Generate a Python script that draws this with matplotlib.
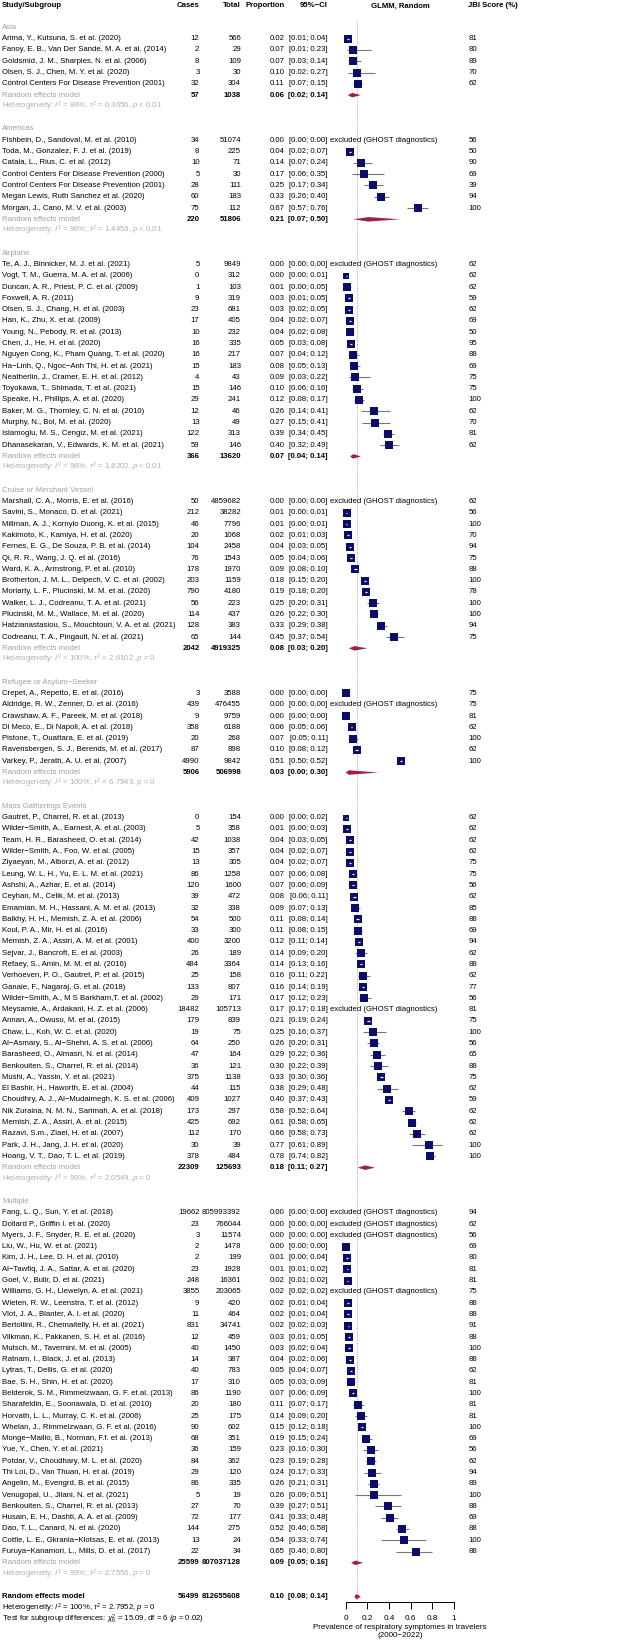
import numpy as np
import matplotlib
matplotlib.use('Agg')
import matplotlib.pyplot as plt
from matplotlib import transforms

plt.rcParams['font.family'] = ['Liberation Sans', 'DejaVu Sans']
plt.rcParams['mathtext.fontset'] = 'custom'
plt.rcParams['mathtext.rm'] = 'Liberation Sans'
plt.rcParams['mathtext.it'] = 'Liberation Sans:italic'
plt.rcParams['mathtext.bf'] = 'Liberation Sans:bold'

# ---------------- data ----------------
group_labels = ["Asia", "Americas", "Airplane", "Cruise or Merchant Vessel",
                "Refugee or Asylum\u2212Seeker", "Mass Gatherings Events", "Multiple"]
group_sizes = [5, 7, 17, 13, 7, 31, 31]

studies = [
    # Asia
    "Arima, Y., Kutsuna, S. et al. (2020)",
    "Fanoy, E. B., Van Der Sande, M. A. et al. (2014)",
    "Goldsmid, J. M., Sharples, N. et al. (2006)",
    "Olsen, S. J., Chen, M. Y. et al. (2020)",
    "Control Centers For Disease Prevention (2001)",
    # Americas
    "Fishbein, D., Sandoval, M. et al. (2010)",
    "Toda, M., Gonzalez, F. J. et al. (2019)",
    "Catala, L., Rius, C. et al. (2012)",
    "Control Centers For Disease Prevention (2000)",
    "Control Centers For Disease Prevention (2001)",
    "Megan Lewis, Ruth Sanchez et al. (2020)",
    "Morgan, J., Cano, M. V. et al. (2003)",
    # Airplane
    "Te, A. J., Binnicker, M. J. et al. (2021)",
    "Vogt, T. M., Guerra, M. A. et al. (2006)",
    "Duncan, A. R., Priest, P. C. et al. (2009)",
    "Foxwell, A. R. (2011)",
    "Olsen, S. J., Chang, H. et al. (2003)",
    "Han, K., Zhu, X. et al. (2009)",
    "Young, N., Pebody, R. et al. (2013)",
    "Chen, J., He, H. et al. (2020)",
    "Nguyen Cong, K., Pham Quang, T. et al. (2020)",
    "Ha\u2212Linh, Q., Ngoc\u2212Anh Thi, H. et al. (2021)",
    "Neatherlin, J., Cramer, E. H. et al. (2012)",
    "Toyokawa, T., Shimada, T. et al. (2021)",
    "Speake, H., Phillips, A. et al. (2020)",
    "Baker, M. G., Thornley, C. N. et al. (2010)",
    "Murphy, N., Bol, M. et al. (2020)",
    "Islamoglu, M. S., Cengiz, M. et al. (2021)",
    "Dhanasekaran, V., Edwards, K. M. et al. (2021)",
    # Cruise
    "Marshall, C. A., Morris, E. et al. (2016)",
    "Savini, S., Monaco, D. et al. (2021)",
    "Millman, A. J., Kornylo Duong, K. et al. (2015)",
    "Kakimoto, K., Kamiya, H. et al. (2020)",
    "Fernes, E. G., De Souza, P. B. et al. (2014)",
    "Qi, R. R., Wang, J. Q. et al. (2016)",
    "Ward, K. A., Armstrong, P. et al. (2010)",
    "Brotherton, J. M. L., Delpech, V. C. et al. (2002)",
    "Moriarty, L. F., Plucinski, M. M. et al. (2020)",
    "Walker, L. J., Codreanu, T. A. et al. (2021)",
    "Plucinski, M. M., Wallace, M. et al. (2020)",
    "Hatzianastasiou, S., Mouchtouri, V. A. et al. (2021)",
    "Codreanu, T. A., Pingault, N. et al. (2021)",
    # Refugee
    "Crepet, A., Repetto, E. et al. (2016)",
    "Aldridge, R. W., Zenner, D. et al. (2016)",
    "Crawshaw, A. F., Pareek, M. et al. (2018)",
    "Di Meco, E., Di Napoli, A. et al. (2018)",
    "Pistone, T., Ouattara, E. et al. (2019)",
    "Ravensbergen, S. J., Berends, M. et al. (2017)",
    "Varkey, P., Jerath, A. U. et al. (2007)",
    # Mass gatherings
    "Gautret, P., Charrel, R. et al. (2013)",
    "Wilder\u2212Smith, A., Earnest, A. et al. (2003)",
    "Team, H. R., Barasheed, O. et al. (2014)",
    "Wilder\u2212Smith, A., Foo, W. et al. (2005)",
    "Ziyaeyan, M., Alborzi, A. et al. (2012)",
    "Leung, W. L. H., Yu, E. L. M. et al. (2021)",
    "Ashshi, A., Azhar, E. et al. (2014)",
    "Ceyhan, M., Celik, M. et al. (2013)",
    "Emamian, M. H., Hassani, A. M. et al. (2013)",
    "Balkhy, H. H., Memish, Z. A. et al. (2006)",
    "Koul, P. A., Mir, H. et al. (2016)",
    "Memish, Z. A., Assiri, A. M. et al. (2001)",
    "Sejvar, J., Bancroft, E. et al. (2003)",
    "Refaey, S., Amin, M. M. et al. (2016)",
    "Verhoeven, P. O., Gautret, P. et al. (2015)",
    "Ganaie, F., Nagaraj, G. et al. (2018)",
    "Wilder\u2212Smith, A., M S Barkham,T. et al. (2002)",
    "Meysamie, A., Ardakani, H. Z. et al. (2006)",
    "Annan, A., Owusu, M. et al. (2015)",
    "Chaw, L., Koh, W. C. et al. (2020)",
    "Al\u2212Asmary, S., Al\u2212Shehri, A. S. et al. (2006)",
    "Barasheed, O., Almasri, N. et al. (2014)",
    "Benkouiten, S., Charrel, R. et al. (2014)",
    "Mushi, A., Yassin, Y. et al. (2021)",
    "El Bashir, H., Haworth, E. et al. (2004)",
    "Choudhry, A. J., Al\u2212Mudaimegh, K. S. et al. (2006)",
    "Nik Zuraina, N. M. N., Sarimah, A. et al. (2018)",
    "Memish, Z. A., Assiri, A. et al. (2015)",
    "Razavi, S.m., Ziaei, H. et al. (2007)",
    "Park, J. H., Jang, J. H. et al. (2020)",
    "Hoang, V. T., Dao, T. L. et al. (2019)",
    # Multiple
    "Fang, L. Q., Sun, Y. et al. (2018)",
    "Dollard P., Griffin I. et al. (2020)",
    "Myers, J. F., Snyder, R. E. et al. (2020)",
    "Liu, W., Hu, W. et al. (2021)",
    "Kim, J. H., Lee, D. H. et al. (2010)",
    "Al\u2212Tawfiq, J. A., Sattar, A. et al. (2020)",
    "Goel, V., Bulir, D. et al. (2021)",
    "Williams, G. H., Llewelyn, A. et al. (2021)",
    "Wieten, R. W., Leenstra, T. et al. (2012)",
    "Vlot, J. A., Blanter, A. I. et al. (2020)",
    "Bertollini, R., Chemaitelly, H. et al. (2021)",
    "Vilkman, K., Pakkanen, S. H. et al. (2016)",
    "Mutsch, M., Tavernini, M. et al. (2005)",
    "Ratnam, I., Black, J. et al. (2013)",
    "Lytras, T., Dellis, G. et al. (2020)",
    "Bae, S. H., Shin, H. et al. (2020)",
    "Belderok, S. M., Rimmelzwaan, G. F. et al. (2013)",
    "Sharafeldin, E., Soonawala, D. et al. (2010)",
    "Horvath, L. L., Murray, C. K. et al. (2006)",
    "Whelan, J., Rimmelzwaan, G. F. et al. (2016)",
    "Monge\u2212Maillo, B., Norman, F.f. et al. (2013)",
    "Yue, Y., Chen, Y. et al. (2021)",
    "Potdar, V., Choudhary, M. L. et al. (2020)",
    "Thi Loi, D., Van Thuan, H. et al. (2019)",
    "Angelin, M., Evengrd, B. et al. (2015)",
    "Venugopal, U., Jilani, N. et al. (2021)",
    "Benkouiten, S., Charrel, R. et al. (2013)",
    "Husain, E. H., Dashti, A. A. et al. (2009)",
    "Dao, T. L., Canard, N. et al. (2020)",
    "Cottle, L. E., Gkrania\u2212Klotsas, E. et al. (2013)",
    "Furuya\u2212Kanamori, L., Mills, D. et al. (2017)",
]

cases = [12, 2, 8, 3, 32,
         34, 8, 10, 5, 28, 60, 75,
         5, 0, 1, 9, 23, 17, 10, 16, 16, 15, 4, 15, 29, 12, 13, 122, 59,
         50, 212, 46, 20, 104, 76, 178, 203, 790, 56, 114, 128, 65,
         3, 439, 9, 358, 20, 87, 4990,
         0, 5, 42, 15, 13, 86, 120, 39, 32, 54, 33, 400, 26, 484, 25, 133, 29, 18482,
         179, 19, 64, 47, 36, 375, 44, 409, 173, 425, 112, 30, 378,
         19662, 23, 3, 2, 2, 23, 248, 3855, 9, 11, 831, 12, 40, 14, 40, 17, 86,
         20, 25, 90, 68, 36, 84, 29, 86, 5, 27, 72, 144, 13, 22]

totals = [566, 29, 109, 30, 304,
          51074, 225, 71, 30, 111, 183, 112,
          9849, 312, 103, 319, 681, 405, 232, 335, 217, 183, 43, 146, 241, 46, 49, 313, 146,
          4859682, 38282, 7796, 1068, 2458, 1543, 1970, 1159, 4180, 223, 437, 383, 144,
          3588, 476455, 9759, 6188, 268, 898, 9842,
          154, 358, 1038, 357, 305, 1258, 1600, 472, 338, 500, 300, 3200, 189, 3364, 158, 807,
          171, 105713, 839, 75, 250, 164, 121, 1138, 115, 1027, 297, 692, 170, 39, 484,
          805993392, 766044, 11574, 1478, 199, 1928, 16361, 203065, 420, 464, 34741, 459, 1450,
          387, 783, 310, 1190, 180, 175, 602, 351, 159, 362, 120, 335, 19, 70, 177, 275, 24, 34]

props = [0.02, 0.07, 0.07, 0.10, 0.11,
         0.00, 0.04, 0.14, 0.17, 0.25, 0.33, 0.67,
         0.00, 0.00, 0.01, 0.03, 0.03, 0.04, 0.04, 0.05, 0.07, 0.08, 0.09, 0.10, 0.12, 0.26, 0.27, 0.39, 0.40,
         0.00, 0.01, 0.01, 0.02, 0.04, 0.05, 0.09, 0.18, 0.19, 0.25, 0.26, 0.33, 0.45,
         0.00, 0.00, 0.00, 0.06, 0.07, 0.10, 0.51,
         0.00, 0.01, 0.04, 0.04, 0.04, 0.07, 0.07, 0.08, 0.09, 0.11, 0.11, 0.12, 0.14, 0.14, 0.16, 0.16,
         0.17, 0.17, 0.21, 0.25, 0.26, 0.29, 0.30, 0.33, 0.38, 0.40, 0.58, 0.61, 0.66, 0.77, 0.78,
         0.00, 0.00, 0.00, 0.00, 0.01, 0.01, 0.02, 0.02, 0.02, 0.02, 0.02, 0.03, 0.03,
         0.04, 0.05, 0.05, 0.07, 0.11, 0.14, 0.15, 0.19, 0.23, 0.23, 0.24, 0.26, 0.26, 0.39, 0.41, 0.52, 0.54, 0.65]

ci_lo = [0.01, 0.01, 0.03, 0.02, 0.07,
         0.00, 0.02, 0.07, 0.06, 0.17, 0.26, 0.57,
         0.00, 0.00, 0.00, 0.01, 0.02, 0.02, 0.02, 0.03, 0.04, 0.05, 0.03, 0.06, 0.08, 0.14, 0.15, 0.34, 0.32,
         0.00, 0.00, 0.00, 0.01, 0.03, 0.04, 0.08, 0.15, 0.18, 0.20, 0.22, 0.29, 0.37,
         0.00, 0.00, 0.00, 0.05, 0.05, 0.08, 0.50,
         0.00, 0.00, 0.03, 0.02, 0.02, 0.06, 0.06, 0.06, 0.07, 0.08, 0.08, 0.11, 0.09, 0.13, 0.11, 0.14,
         0.12, 0.17, 0.19, 0.16, 0.20, 0.22, 0.22, 0.30, 0.29, 0.37, 0.52, 0.58, 0.58, 0.61, 0.74,
         0.00, 0.00, 0.00, 0.00, 0.00, 0.01, 0.01, 0.02, 0.01, 0.01, 0.02, 0.01, 0.02,
         0.02, 0.04, 0.03, 0.06, 0.07, 0.09, 0.12, 0.15, 0.16, 0.19, 0.17, 0.21, 0.09, 0.27, 0.33, 0.46, 0.33, 0.46]

ci_hi = [0.04, 0.23, 0.14, 0.27, 0.15,
         0.00, 0.07, 0.24, 0.35, 0.34, 0.40, 0.76,
         0.00, 0.01, 0.05, 0.05, 0.05, 0.07, 0.08, 0.08, 0.12, 0.13, 0.22, 0.16, 0.17, 0.41, 0.41, 0.45, 0.49,
         0.00, 0.01, 0.01, 0.03, 0.05, 0.06, 0.10, 0.20, 0.20, 0.31, 0.30, 0.38, 0.54,
         0.00, 0.00, 0.00, 0.06, 0.11, 0.12, 0.52,
         0.02, 0.03, 0.05, 0.07, 0.07, 0.08, 0.09, 0.11, 0.13, 0.14, 0.15, 0.14, 0.20, 0.16, 0.22, 0.19,
         0.23, 0.18, 0.24, 0.37, 0.31, 0.36, 0.39, 0.36, 0.48, 0.43, 0.64, 0.65, 0.73, 0.89, 0.82,
         0.00, 0.00, 0.00, 0.00, 0.04, 0.02, 0.02, 0.02, 0.04, 0.04, 0.03, 0.05, 0.04,
         0.06, 0.07, 0.09, 0.09, 0.17, 0.20, 0.18, 0.24, 0.30, 0.28, 0.33, 0.31, 0.51, 0.51, 0.48, 0.58, 0.74, 0.80]

jbi = [81, 80, 89, 70, 62,
       56, 50, 90, 69, 39, 94, 100,
       62, 62, 62, 59, 62, 69, 50, 95, 88, 69, 75, 75, 100, 62, 70, 81, 62,
       62, 56, 100, 70, 94, 75, 88, 100, 78, 100, 100, 94, 75,
       75, 75, 81, 62, 100, 62, 100,
       62, 62, 62, 62, 75, 75, 56, 62, 85, 88, 69, 94, 62, 88, 62, 77, 56, 81,
       75, 100, 56, 65, 88, 75, 62, 59, 62, 62, 62, 100, 100,
       94, 62, 56, 69, 80, 81, 81, 75, 88, 88, 91, 88, 100,
       88, 62, 81, 100, 81, 81, 100, 69, 56, 62, 94, 89, 100, 88, 69, 88, 100, 88]

excluded_studies = [
    "Fishbein, D., Sandoval, M. et al. (2010)",
    "Te, A. J., Binnicker, M. J. et al. (2021)",
    "Marshall, C. A., Morris, E. et al. (2016)",
    "Aldridge, R. W., Zenner, D. et al. (2016)",
    "Meysamie, A., Ardakani, H. Z. et al. (2006)",
    "Fang, L. Q., Sun, Y. et al. (2018)",
    "Dollard P., Griffin I. et al. (2020)",
    "Myers, J. F., Snyder, R. E. et al. (2020)",
    "Williams, G. H., Llewelyn, A. et al. (2021)",
]

group_cases = [57, 220, 366, 2042, 5906, 22309, 25599]
group_totals = [1038, 51806, 13620, 4919325, 506998, 125693, 807037128]
group_est = [0.06, 0.21, 0.07, 0.08, 0.03, 0.18, 0.09]
group_lo = [0.02, 0.07, 0.04, 0.03, 0.00, 0.11, 0.05]
group_hi = [0.14, 0.50, 0.14, 0.20, 0.30, 0.27, 0.16]
group_i2 = [84, 96, 96, 100, 100, 99, 99]
group_tau2 = ["0.3656", "1.4453", "1.8202", "2.6102", "6.7943", "2.0549", "2.7556"]
group_p = ["< 0.01", "< 0.01", "< 0.01", "= 0", "= 0", "= 0", "= 0"]

overall_cases = 56499
overall_total = 812655608
overall_est, overall_lo, overall_hi = 0.10, 0.08, 0.14
overall_i2, overall_tau2, overall_p = 100, "2.7952", "= 0"
subgroup_chi2, subgroup_df, subgroup_p = "15.09", 6, "0.02"

x_ticks = [0, 0.2, 0.4, 0.6, 0.8, 1]
x_tick_labels = ["0", "0.2", "0.4", "0.6", "0.8", "1"]

# ---------------- layout ----------------
W, H = 641, 1650
ROW0, DY = 4.8, 11.29
FS = 5.6
NAVY = "#0c0c6a"
DIAMOND = "#9b2248"
GRAY_TXT = "#a0a0a0"
HET_TXT = "#b0b0b0"
CI_COL = "#777777"

fig = plt.figure(figsize=(W / 100, H / 100), dpi=100)
x0px, x1px = 345.7, 454.0
ax = fig.add_axes([x0px / W, 0, (x1px - x0px) / W, 1])
ax.set_xlim(0, 1)
ax.set_ylim((H - ROW0) / DY, -ROW0 / DY)
tr = transforms.blended_transform_factory(fig.transFigure, ax.transData)
px_per_unit = x1px - x0px


def txt(px, row, s, ha='left', color='black', weight='normal', size=FS):
    ax.text(px / W, row, s, transform=tr, ha=ha, va='center', fontsize=size,
            color=color, fontweight=weight, clip_on=False)


C_STUDY, C_CASES, C_TOTAL, C_PROP, C_CI, C_EXCL, C_JBI, C_GLMM = 2, 199.5, 241, 284.7, 327.6, 330, 468.3, 400

# header
hr = 0.1
txt(C_STUDY, hr, "Study/Subgroup", weight='bold')
txt(C_CASES, hr, "Cases", ha='right', weight='bold')
txt(C_TOTAL, hr, "Total", ha='right', weight='bold')
txt(C_PROP, hr, "Proportion", ha='right', weight='bold')
txt(C_CI, hr, "95%\u2212CI", ha='right', weight='bold')
txt(C_GLMM, hr, "GLMM, Random", ha='center', weight='bold')
txt(C_JBI, hr, "JBI Score (%)", weight='bold')

# box sizes from approximate inverse-variance weights (logit scale, overall tau^2)
c_arr = np.array(cases, float)
n_arr = np.array(totals, float)
v = 1 / (c_arr + 0.5) + 1 / (n_arr - c_arr + 0.5)
w = 1 / (v + float(overall_tau2))
side_px = 7.6 * (w / w.max()) ** 0.25

row = 2
idx = 0
for g, gl in enumerate(group_labels):
    txt(C_STUDY, row, gl, color=GRAY_TXT)
    row += 1
    for k in range(group_sizes[g]):
        i = idx + k
        txt(C_STUDY, row, studies[i])
        txt(C_CASES, row, str(cases[i]), ha='right')
        txt(C_TOTAL, row, str(totals[i]), ha='right')
        txt(C_PROP, row, f"{props[i]:.2f}", ha='right')
        txt(C_CI, row, f"[{ci_lo[i]:.2f}; {ci_hi[i]:.2f}]", ha='right')
        txt(C_JBI, row, str(jbi[i]))
        if studies[i] in excluded_studies:
            txt(C_EXCL, row, "excluded (GHOST diagnostics)")
        else:
            half = side_px[i] / 2 / px_per_unit
            inside = ci_lo[i] >= props[i] - half and ci_hi[i] <= props[i] + half
            if not inside:
                ax.hlines(row, ci_lo[i], ci_hi[i], color=CI_COL, lw=0.8, zorder=2, clip_on=False)
            ax.scatter([props[i]], [row], marker='s', s=(side_px[i] * 0.72) ** 2,
                       color=NAVY, linewidths=0, zorder=3, clip_on=False)
            if inside:
                lo_i = max(ci_lo[i], props[i] - 0.3 * half)
                hi_i = min(ci_hi[i], props[i] + 0.3 * half)
                ax.hlines(row, lo_i, hi_i, color='white', lw=0.9, zorder=4, clip_on=False)
        row += 1
    idx += group_sizes[g]
    # subgroup random effects
    txt(C_STUDY, row, "Random effects model", color=GRAY_TXT)
    txt(C_CASES, row, str(group_cases[g]), ha='right', weight='bold')
    txt(C_TOTAL, row, str(group_totals[g]), ha='right', weight='bold')
    txt(C_PROP, row, f"{group_est[g]:.2f}", ha='right', weight='bold')
    txt(C_CI, row, f"[{group_lo[g]:.2f}; {group_hi[g]:.2f}]", ha='right', weight='bold')
    hd = 0.2
    ax.fill([group_lo[g], group_est[g], group_hi[g], group_est[g]],
            [row, row - hd, row, row + hd], color=DIAMOND, lw=0, zorder=3, clip_on=False)
    row += 1
    txt(C_STUDY, row, f"Heterogeneity: $I^2$ = {group_i2[g]}%, $\\tau^2$ = {group_tau2[g]}, $p$ {group_p[g]}",
        color=HET_TXT)
    row += 2

# overall
txt(C_STUDY, row, "Random effects model", weight='bold')
txt(C_CASES, row, str(overall_cases), ha='right', weight='bold')
txt(C_TOTAL, row, str(overall_total), ha='right', weight='bold')
txt(C_PROP, row, f"{overall_est:.2f}", ha='right', weight='bold')
txt(C_CI, row, f"[{overall_lo:.2f}; {overall_hi:.2f}]", ha='right', weight='bold')
hd = 0.24
ax.fill([overall_lo, overall_est, overall_hi, overall_est],
        [row, row - hd, row, row + hd], color=DIAMOND, lw=0, zorder=3)
overall_row = row
txt(C_STUDY, row + 1, f"Heterogeneity: $I^2$ = {overall_i2}%, $\\tau^2$ = {overall_tau2}, $p$ {overall_p}")
txt(C_STUDY, row + 2, f"Test for subgroup differences: $\\chi^2_{subgroup_df}$ = {subgroup_chi2}, "
                      f"df = {subgroup_df} ($p$ = {subgroup_p})")

# reference line at overall estimate
ax.vlines(overall_est, 1.4, overall_row + 0.3, colors='#8a8a8a', lw=0.6,
          linestyles=(0, (1, 1.6)), zorder=1)

# x axis
for s in ['left', 'right', 'top']:
    ax.spines[s].set_visible(False)
axis_row = (1602 - ROW0) / DY
ax.spines['bottom'].set_position(('data', axis_row))
ax.spines['bottom'].set_bounds(0, 1)
ax.spines['bottom'].set_linewidth(0.7)
ax.set_xticks(x_ticks)
ax.set_xticklabels(x_tick_labels)
ax.set_yticks([])
ax.tick_params(axis='x', direction='out', length=5, width=0.7, labelsize=FS + 0.3, pad=4)
ax.set_xlabel("Prevalence of respiratory symptomes in travelers\n(2000\u22122022)",
              fontsize=FS + 0.2, labelpad=1.5, linespacing=1.25)
ax.patch.set_visible(False)

fig.savefig("out.png", dpi=100)
